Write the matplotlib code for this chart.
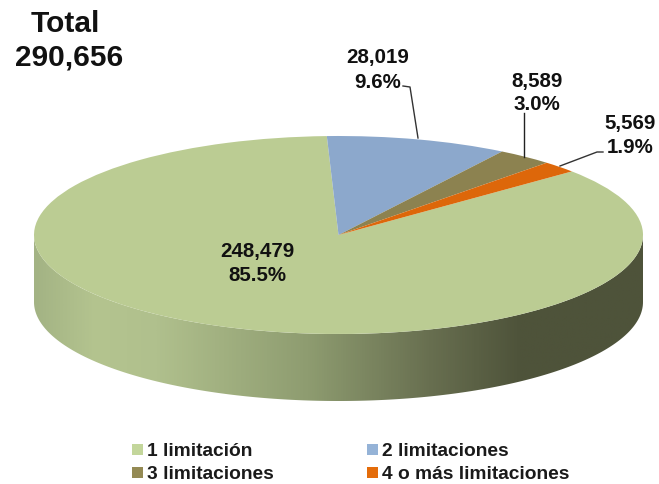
import numpy as np
import matplotlib
matplotlib.use("Agg")
import matplotlib.pyplot as plt
from matplotlib.colors import LinearSegmentedColormap
from matplotlib.patches import Polygon, Rectangle

plt.rcParams['font.family'] = ['Liberation Sans', 'DejaVu Sans']

# datos
categorias = ['1 limitación', '2 limitaciones', '3 limitaciones', '4 o más limitaciones']
valores = [248479, 28019, 8589, 5569]
valores_txt = ['248,479', '28,019', '8,589', '5,569']
porcentajes = ['85.5%', '9.6%', '3.0%', '1.9%']
total_txt = '290,656'

colores_pie = ['#BBCC93', '#8CA8CC', '#8C8250', '#DD670A']
colores_leyenda = ['#C3D69B', '#95B3D7', '#948A54', '#E46C0A']

W, H = 659, 485
fig = plt.figure(figsize=(W / 100, H / 100), dpi=100)

# caja del pastel en pixeles
x0, x1, y0, y1 = 34, 643, 137, 402
ry = 99
prof = (y1 - y0 - 2 * ry) / ry

ax = fig.add_axes([x0 / W, 1 - y1 / H, (x1 - x0) / W, (y1 - y0) / H])

# lateral con degradado
t = np.linspace(np.pi, 2 * np.pi, 200)
arriba = np.column_stack([np.cos(t), np.sin(t)])
abajo = np.column_stack([np.cos(t), np.sin(t) - prof])[::-1]
lado = Polygon(np.vstack([arriba, abajo]), closed=True, transform=ax.transData, fc='none', ec='none')
ax.add_patch(lado)
cmap = LinearSegmentedColormap.from_list('lado', [
    (0.0, '#A3B384'), (0.10, '#B4C48F'), (0.20, '#B0C08D'), (0.45, '#8E9C70'),
    (0.65, '#686F50'), (0.80, '#4E533A'), (1.0, '#4E533A')])
im = ax.imshow(np.linspace(0, 1, 512).reshape(1, -1), cmap=cmap, aspect='auto',
               extent=(-1, 1, -1 - prof, 0), zorder=1)
im.set_clip_path(lado)

# cara superior: empieza en el verde, sentido horario
inicio = 92.2 - 360 * sum(valores[1:]) / sum(valores)
ax.pie(valores, colors=colores_pie, startangle=inicio, counterclock=False, radius=1,
       wedgeprops={'zorder': 2, 'linewidth': 0})
ax.set_aspect('auto')
ax.set_xlim(-1, 1)
ax.set_ylim(-1 - prof, 1)
ax.axis('off')

# capa en pixeles para textos y lineas
capa = fig.add_axes([0, 0, 1, 1])
capa.set_xlim(0, W)
capa.set_ylim(H, 0)
capa.axis('off')
capa.patch.set_alpha(0)

capa.text(65, 24, 'Total', fontsize=21.5, fontweight='bold', ha='center', va='center', color='#111111')
capa.text(69, 57, total_txt, fontsize=21.5, fontweight='bold', ha='center', va='center', color='#111111')

pos_labels = [(257, 251, 276), (378, 57, 82), (537, 81, 105), (630, 123, 148)]
for (x, y1_, y2_), v, p in zip(pos_labels, valores_txt, porcentajes):
    capa.text(x, y1_, v, fontsize=14.8, fontweight='bold', ha='center', va='center', color='#111111')
    capa.text(x, y2_, p, fontsize=14.8, fontweight='bold', ha='center', va='center', color='#111111')

# lineas guia
capa.plot([403, 410, 418], [87, 88, 139], color='#333333', lw=1)
capa.plot([524, 524], [114, 158], color='#222222', lw=1)
capa.plot([603, 597, 560], [153, 153, 167], color='#333333', lw=1)

# leyenda
pos_leyenda = [(132, 450), (367, 450), (132, 473), (367, 473)]
for (x, y), c, txt in zip(pos_leyenda, colores_leyenda, categorias):
    capa.add_patch(Rectangle((x, y - 5), 11, 10.5, fc=c, ec='none'))
    capa.text(x + 15, y + 1.5, txt, fontsize=13.8, fontweight='bold', ha='left', va='center', color='#1a1a1a')

fig.savefig('out.png', dpi=100)
